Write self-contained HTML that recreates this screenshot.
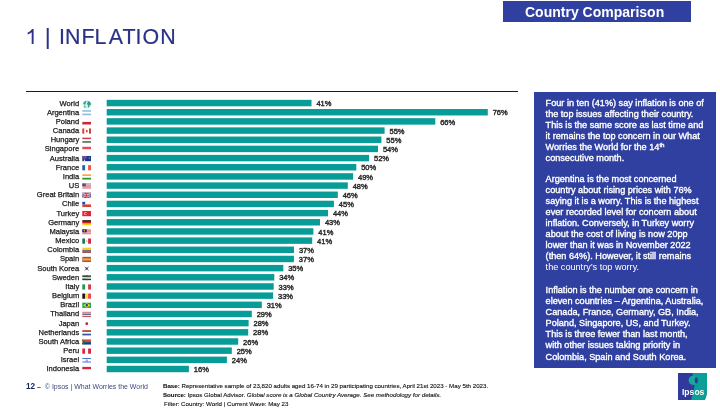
<!DOCTYPE html>
<html><head><meta charset="utf-8">
<style>
html,body{margin:0;padding:0;background:#fff;}
body{width:720px;height:412px;position:relative;overflow:hidden;font-family:"Liberation Sans",sans-serif;}
.abs{position:absolute;}
*{-webkit-font-smoothing:antialiased;}
svg,#cc,#panel,#fl,#fn{will-change:transform;}
#title{left:24.6px;top:24px;font-size:21px;color:#27307f;letter-spacing:0.9px;white-space:nowrap;line-height:24px;}
#cc{left:503px;top:1px;width:188px;height:20.6px;background:#3040a0;}
#cc span{position:absolute;left:22px;top:3px;font-size:14px;font-weight:bold;color:#fff;white-space:nowrap;line-height:16px;}
#hline{left:25.8px;top:90.5px;width:492px;height:1.2px;background:#1a1a1a;}
#panel{left:534.4px;top:91.5px;width:182px;height:275.7px;background:#3040a0;}
.pt{position:absolute;left:11.6px;font-size:9.15px;line-height:11.04px;color:#fff;white-space:nowrap;-webkit-text-stroke:0.35px #fff;}
#p1{top:6.1px;}
#p2{top:82.0px;}
#p3{top:192.7px;line-height:11.16px;}
.pt .thin{-webkit-text-stroke:0;}
.pt sup{font-size:6.2px;vertical-align:0;position:relative;top:-3.4px;line-height:0;}
svg text.v{font-size:7.5px;fill:#2a2a2a;stroke:#2a2a2a;stroke-width:0.42px;font-family:"Liberation Sans",sans-serif;}
svg text.c{font-size:7.55px;fill:#1a1a1a;stroke:#1a1a1a;stroke-width:0.25px;font-family:"Liberation Sans",sans-serif;}
#fl{left:26px;top:381.5px;font-size:6.98px;color:#3b4a80;white-space:nowrap;line-height:9px;}
#fl b{color:#1c2560;font-size:8.2px;}
#fn{left:162.7px;top:381px;font-size:6.17px;color:#111;-webkit-text-stroke:0.12px #111;line-height:9.2px;white-space:nowrap;}
#logo{left:677.5px;top:372.7px;width:29px;height:27.2px;}
</style></head><body>
<svg class="abs" style="left:0;top:0" width="200" height="60"><path d="M33.6,28.9 L33.6,44 L31.7,44 L31.7,32.2 Q30.2,33.6 27.6,34.5 L27.6,32.7 Q30.6,31.6 32.0,28.9 Z" fill="#2a3386"/><text x="45.02 58.98 64.92 81.61 94.43 108.76 122.42 135.48 142.58 160.37" y="43.9" font-size="21.4" fill="#2a3386" stroke="#2a3386" stroke-width="0.2" font-family="Liberation Sans">|INFLATION</text></svg>
<div id="cc" class="abs"><span>Country Comparison</span></div>
<div id="hline" class="abs"></div>
<svg class="abs" style="left:0;top:0" width="720" height="412" viewBox="0 0 720 412">
<rect x="106.7" y="99.85" width="204.80" height="6.45" fill="#079c98"/>
<text x="316.40" y="106.20" class="v">41%</text>
<text x="79.2" y="105.55" class="c" text-anchor="end">World</text>
<g opacity="0.9"><ellipse cx="86.9" cy="104.6" rx="4.4" ry="4.1" fill="#c4f0e8"/><path d="M83.0,103.6 Q83.7,101.19999999999999 85.9,100.69999999999999 L86.5,101.8 Q85.10000000000001,102.8 85.7,104.0 L84.7,104.8 Q83.9,104.39999999999999 83.0,103.6z" fill="#2a9a86"/><path d="M84.30000000000001,105.39999999999999 Q85.7,105.5 85.60000000000001,106.8 Q85.10000000000001,108.0 84.5,108.19999999999999 Q84.10000000000001,106.6 84.30000000000001,105.39999999999999z" fill="#2a9a86"/><path d="M87.5,100.8 Q90.30000000000001,101.39999999999999 91.2,104.0 Q90.7,105.19999999999999 89.7,104.8 Q89.5,106.8 88.5,108.0 Q87.80000000000001,106.19999999999999 87.9,104.8 Q86.7,104.3 87.10000000000001,103.19999999999999 Q88.30000000000001,103.0 87.5,100.8z" fill="#1f9079"/></g>
<rect x="106.7" y="109.02" width="381.10" height="6.45" fill="#079c98"/>
<text x="492.70" y="115.37" class="v">76%</text>
<text x="79.2" y="114.72" class="c" text-anchor="end">Argentina</text>
<g opacity="0.9"><rect x="82.30" y="110.12" width="8.70" height="1.73" fill="#8db4dc"/><rect x="82.30" y="111.85" width="8.70" height="1.73" fill="#ffffff"/><rect x="82.30" y="113.59" width="8.70" height="1.73" fill="#8db4dc"/></g>
<rect x="106.7" y="118.19" width="328.60" height="6.45" fill="#079c98"/>
<text x="440.20" y="124.54" class="v">66%</text>
<text x="79.2" y="123.89" class="c" text-anchor="end">Poland</text>
<g opacity="0.9"><rect x="82.30" y="119.29" width="8.70" height="2.60" fill="#ffffff"/><rect x="82.30" y="121.89" width="8.70" height="2.60" fill="#c8102e"/></g>
<rect x="106.7" y="127.36" width="277.90" height="6.45" fill="#079c98"/>
<text x="389.50" y="133.71" class="v">55%</text>
<text x="79.2" y="133.06" class="c" text-anchor="end">Canada</text>
<g opacity="0.9"><rect x="82.30" y="128.46" width="2.17" height="5.20" fill="#d52b1e"/><rect x="88.83" y="128.46" width="2.17" height="5.20" fill="#d52b1e"/><rect x="84.47" y="128.46" width="4.35" height="5.20" fill="#ffffff"/><rect x="86.0" y="129.95999999999998" width="1.6" height="2.4" fill="#d52b1e"/></g>
<rect x="106.7" y="136.53" width="274.70" height="6.45" fill="#079c98"/>
<text x="386.30" y="142.88" class="v">55%</text>
<text x="79.2" y="142.23" class="c" text-anchor="end">Hungary</text>
<g opacity="0.9"><rect x="82.30" y="137.63" width="8.70" height="1.73" fill="#ce2939"/><rect x="82.30" y="139.36" width="8.70" height="1.73" fill="#ffffff"/><rect x="82.30" y="141.10" width="8.70" height="1.73" fill="#477050"/></g>
<rect x="106.7" y="145.70" width="271.30" height="6.45" fill="#079c98"/>
<text x="382.90" y="152.05" class="v">54%</text>
<text x="79.2" y="151.40" class="c" text-anchor="end">Singapore</text>
<g opacity="0.9"><rect x="82.30" y="146.80" width="8.70" height="2.60" fill="#ef3340"/><rect x="82.30" y="149.40" width="8.70" height="2.60" fill="#ffffff"/></g>
<rect x="106.7" y="154.87" width="262.40" height="6.45" fill="#079c98"/>
<text x="374.00" y="161.22" class="v">52%</text>
<text x="79.2" y="160.57" class="c" text-anchor="end">Australia</text>
<g opacity="0.9"><rect x="82.30" y="155.97" width="8.70" height="5.20" fill="#00247d"/><rect x="82.3" y="155.97" width="4.35" height="2.6" fill="#6a3a8a"/><circle cx="84.5" cy="160.17" r="0.7" fill="#ffffff"/><circle cx="89.3" cy="157.97" r="0.5" fill="#ffffff"/></g>
<rect x="106.7" y="164.04" width="249.60" height="6.45" fill="#079c98"/>
<text x="361.20" y="170.39" class="v">50%</text>
<text x="79.2" y="169.74" class="c" text-anchor="end">France</text>
<g opacity="0.9"><rect x="82.30" y="165.14" width="2.90" height="5.20" fill="#0055a4"/><rect x="85.20" y="165.14" width="2.90" height="5.20" fill="#ffffff"/><rect x="88.10" y="165.14" width="2.90" height="5.20" fill="#ef4135"/></g>
<rect x="106.7" y="173.21" width="246.40" height="6.45" fill="#079c98"/>
<text x="358.00" y="179.56" class="v">49%</text>
<text x="79.2" y="178.91" class="c" text-anchor="end">India</text>
<g opacity="0.9"><rect x="82.30" y="174.31" width="8.70" height="1.73" fill="#ff9933"/><rect x="82.30" y="176.04" width="8.70" height="1.73" fill="#ffffff"/><rect x="82.30" y="177.78" width="8.70" height="1.73" fill="#138808"/></g>
<rect x="106.7" y="182.38" width="241.10" height="6.45" fill="#079c98"/>
<text x="352.70" y="188.73" class="v">48%</text>
<text x="79.2" y="188.08" class="c" text-anchor="end">US</text>
<g opacity="0.9"><rect x="82.30" y="183.48" width="8.70" height="0.40" fill="#b22234"/><rect x="82.30" y="184.28" width="8.70" height="0.40" fill="#b22234"/><rect x="82.30" y="185.08" width="8.70" height="0.40" fill="#b22234"/><rect x="82.30" y="185.88" width="8.70" height="0.40" fill="#b22234"/><rect x="82.30" y="186.68" width="8.70" height="0.40" fill="#b22234"/><rect x="82.30" y="187.48" width="8.70" height="0.40" fill="#b22234"/><rect x="82.30" y="188.28" width="8.70" height="0.40" fill="#b22234"/><rect x="82.30" y="183.48" width="3.48" height="2.80" fill="#3c3b6e"/></g>
<rect x="106.7" y="191.55" width="231.10" height="6.45" fill="#079c98"/>
<text x="342.70" y="197.90" class="v">46%</text>
<text x="79.2" y="197.25" class="c" text-anchor="end">Great Britain</text>
<g opacity="0.9"><rect x="82.30" y="192.65" width="8.70" height="5.20" fill="#012169"/><path d="M82.3,192.65 L91.0,197.85 M91.0,192.65 L82.3,197.85" stroke="#ffffff" stroke-width="1.2"/><path d="M82.3,192.65 L91.0,197.85 M91.0,192.65 L82.3,197.85" stroke="#c8102e" stroke-width="0.5"/><rect x="85.95" y="192.65" width="1.39" height="5.20" fill="#ffffff"/><rect x="82.30" y="194.63" width="8.70" height="1.25" fill="#ffffff"/><rect x="86.22" y="192.65" width="0.87" height="5.20" fill="#c8102e"/><rect x="82.30" y="194.83" width="8.70" height="0.83" fill="#c8102e"/></g>
<rect x="106.7" y="200.72" width="227.20" height="6.45" fill="#079c98"/>
<text x="338.80" y="207.07" class="v">45%</text>
<text x="79.2" y="206.42" class="c" text-anchor="end">Chile</text>
<g opacity="0.9"><rect x="82.30" y="201.82" width="8.70" height="2.60" fill="#ffffff"/><rect x="82.30" y="204.42" width="8.70" height="2.60" fill="#d52b1e"/><rect x="82.30" y="201.82" width="2.87" height="2.60" fill="#0039a6"/></g>
<rect x="106.7" y="209.89" width="221.30" height="6.45" fill="#079c98"/>
<text x="332.90" y="216.24" class="v">44%</text>
<text x="79.2" y="215.59" class="c" text-anchor="end">Turkey</text>
<g opacity="0.9"><rect x="82.30" y="210.99" width="8.70" height="5.20" fill="#e30a17"/><circle cx="85.7" cy="213.58999999999997" r="1.5" fill="#ffffff"/><circle cx="86.1" cy="213.58999999999997" r="1.2" fill="#e30a17"/></g>
<rect x="106.7" y="219.06" width="213.30" height="6.45" fill="#079c98"/>
<text x="324.90" y="225.41" class="v">43%</text>
<text x="79.2" y="224.76" class="c" text-anchor="end">Germany</text>
<g opacity="0.9"><rect x="82.30" y="220.16" width="8.70" height="1.73" fill="#000000"/><rect x="82.30" y="221.89" width="8.70" height="1.73" fill="#dd0000"/><rect x="82.30" y="223.63" width="8.70" height="1.73" fill="#ffce00"/></g>
<rect x="106.7" y="228.23" width="206.70" height="6.45" fill="#079c98"/>
<text x="318.30" y="234.58" class="v">41%</text>
<text x="79.2" y="233.93" class="c" text-anchor="end">Malaysia</text>
<g opacity="0.9"><rect x="82.30" y="229.33" width="8.70" height="0.37" fill="#cc0001"/><rect x="82.30" y="230.07" width="8.70" height="0.37" fill="#cc0001"/><rect x="82.30" y="230.82" width="8.70" height="0.37" fill="#cc0001"/><rect x="82.30" y="231.56" width="8.70" height="0.37" fill="#cc0001"/><rect x="82.30" y="232.30" width="8.70" height="0.37" fill="#cc0001"/><rect x="82.30" y="233.04" width="8.70" height="0.37" fill="#cc0001"/><rect x="82.30" y="233.79" width="8.70" height="0.37" fill="#cc0001"/><rect x="82.30" y="229.33" width="4.35" height="2.96" fill="#010066"/><circle cx="84.3" cy="230.82999999999998" r="0.8" fill="#ffcc00"/></g>
<rect x="106.7" y="237.40" width="205.50" height="6.45" fill="#079c98"/>
<text x="317.10" y="243.75" class="v">41%</text>
<text x="79.2" y="243.10" class="c" text-anchor="end">Mexico</text>
<g opacity="0.9"><rect x="82.30" y="238.50" width="2.90" height="5.20" fill="#006847"/><rect x="85.20" y="238.50" width="2.90" height="5.20" fill="#ffffff"/><rect x="88.10" y="238.50" width="2.90" height="5.20" fill="#ce1126"/><circle cx="86.8" cy="241.1" r="0.7" fill="#8c6a3a"/></g>
<rect x="106.7" y="246.57" width="187.30" height="6.45" fill="#079c98"/>
<text x="298.90" y="252.92" class="v">37%</text>
<text x="79.2" y="252.27" class="c" text-anchor="end">Colombia</text>
<g opacity="0.9"><rect x="82.30" y="247.67" width="8.70" height="2.60" fill="#f0c820"/><rect x="82.30" y="250.27" width="8.70" height="1.30" fill="#3a2a50"/><rect x="82.30" y="251.57" width="8.70" height="1.30" fill="#8a2030"/></g>
<rect x="106.7" y="255.74" width="187.20" height="6.45" fill="#079c98"/>
<text x="298.80" y="262.09" class="v">37%</text>
<text x="79.2" y="261.44" class="c" text-anchor="end">Spain</text>
<g opacity="0.9"><rect x="82.30" y="256.84" width="8.70" height="5.20" fill="#a8401c"/><rect x="82.30" y="258.40" width="8.70" height="2.08" fill="#f2a040"/></g>
<rect x="106.7" y="264.91" width="176.60" height="6.45" fill="#079c98"/>
<text x="288.20" y="271.26" class="v">35%</text>
<text x="79.2" y="270.61" class="c" text-anchor="end">South Korea</text>
<g opacity="0.9"><path d="M84.7,266.81 L88.7,270.40999999999997 M88.7,266.81 L84.7,270.40999999999997" stroke="#303040" stroke-width="0.75"/><circle cx="86.7" cy="268.61" r="1.1" fill="#3a2050"/></g>
<rect x="106.7" y="274.08" width="167.60" height="6.45" fill="#079c98"/>
<text x="279.20" y="280.43" class="v">34%</text>
<text x="79.2" y="279.78" class="c" text-anchor="end">Sweden</text>
<g opacity="0.9"><rect x="82.30" y="275.44" width="8.70" height="4.68" fill="#c8dccc"/><rect x="82.30" y="275.44" width="8.70" height="1.46" fill="#10241a"/><rect x="82.30" y="278.66" width="8.70" height="1.46" fill="#10241a"/><rect x="85.61" y="275.44" width="2.26" height="1.46" fill="#3a2418"/><rect x="85.61" y="278.66" width="2.26" height="1.46" fill="#3a2418"/><rect x="85.61" y="276.90" width="2.26" height="1.77" fill="#d8c0b0"/><rect x="87.87" y="276.90" width="3.13" height="1.77" fill="#a8d8c0"/></g>
<rect x="106.7" y="283.25" width="167.00" height="6.45" fill="#079c98"/>
<text x="278.60" y="289.60" class="v">33%</text>
<text x="79.2" y="288.95" class="c" text-anchor="end">Italy</text>
<g opacity="0.9"><rect x="82.30" y="284.35" width="2.90" height="5.20" fill="#009246"/><rect x="85.20" y="284.35" width="2.90" height="5.20" fill="#ffffff"/><rect x="88.10" y="284.35" width="2.90" height="5.20" fill="#ce2b37"/></g>
<rect x="106.7" y="292.42" width="166.40" height="6.45" fill="#079c98"/>
<text x="278.00" y="298.77" class="v">33%</text>
<text x="79.2" y="298.12" class="c" text-anchor="end">Belgium</text>
<g opacity="0.9"><rect x="82.30" y="293.52" width="2.90" height="5.20" fill="#000000"/><rect x="85.20" y="293.52" width="2.90" height="5.20" fill="#fdda24"/><rect x="88.10" y="293.52" width="2.90" height="5.20" fill="#ef3340"/></g>
<rect x="106.7" y="301.59" width="155.10" height="6.45" fill="#079c98"/>
<text x="266.70" y="307.94" class="v">31%</text>
<text x="79.2" y="307.29" class="c" text-anchor="end">Brazil</text>
<g opacity="0.9"><rect x="82.30" y="302.69" width="8.70" height="5.20" fill="#009c3b"/><path d="M86.8,303.19000000000005 L90.6,305.2900000000001 L86.8,307.39000000000004 L83.0,305.2900000000001z" fill="#ffdf00"/><circle cx="86.8" cy="305.2900000000001" r="1.2" fill="#002776"/></g>
<rect x="106.7" y="310.76" width="145.10" height="6.45" fill="#079c98"/>
<text x="256.70" y="317.11" class="v">29%</text>
<text x="79.2" y="316.46" class="c" text-anchor="end">Thailand</text>
<g opacity="0.9"><rect x="82.30" y="311.86" width="8.70" height="0.87" fill="#a51931"/><rect x="82.30" y="312.73" width="8.70" height="0.87" fill="#f4f5f8"/><rect x="82.30" y="313.59" width="8.70" height="0.87" fill="#2d2a4a"/><rect x="82.30" y="314.46" width="8.70" height="0.87" fill="#2d2a4a"/><rect x="82.30" y="315.33" width="8.70" height="0.87" fill="#f4f5f8"/><rect x="82.30" y="316.19" width="8.70" height="0.87" fill="#a51931"/></g>
<rect x="106.7" y="319.93" width="141.90" height="6.45" fill="#079c98"/>
<text x="253.50" y="326.28" class="v">28%</text>
<text x="79.2" y="325.63" class="c" text-anchor="end">Japan</text>
<g opacity="0.9"><rect x="82.30" y="321.03" width="8.70" height="5.20" fill="#ffffff"/><circle cx="86.8" cy="323.63" r="1.4" fill="#bc002d"/></g>
<rect x="106.7" y="329.10" width="141.50" height="6.45" fill="#079c98"/>
<text x="253.10" y="335.45" class="v">28%</text>
<text x="79.2" y="334.80" class="c" text-anchor="end">Netherlands</text>
<g opacity="0.9"><rect x="82.30" y="330.20" width="8.70" height="1.73" fill="#ae1c28"/><rect x="82.30" y="331.93" width="8.70" height="1.73" fill="#ffffff"/><rect x="82.30" y="333.67" width="8.70" height="1.73" fill="#21468b"/></g>
<rect x="106.7" y="338.27" width="131.50" height="6.45" fill="#079c98"/>
<text x="243.10" y="344.62" class="v">26%</text>
<text x="79.2" y="343.97" class="c" text-anchor="end">South Africa</text>
<g opacity="0.9"><rect x="82.30" y="339.37" width="8.70" height="2.60" fill="#de3831"/><rect x="82.30" y="341.97" width="8.70" height="2.60" fill="#002395"/><rect x="82.30" y="341.45" width="8.70" height="1.04" fill="#007a4d"/><path d="M82.3,339.37 L85.89999999999999,341.97 L82.3,344.57z" fill="#007a4d"/><path d="M82.3,340.17 L84.7,341.97 L82.3,343.77z" fill="#000000"/><path d="M82.3,340.57 L83.89999999999999,341.97 L82.3,343.37z" fill="#ffb612"/></g>
<rect x="106.7" y="347.44" width="125.10" height="6.45" fill="#079c98"/>
<text x="236.70" y="353.79" class="v">25%</text>
<text x="79.2" y="353.14" class="c" text-anchor="end">Peru</text>
<g opacity="0.9"><rect x="82.30" y="348.54" width="2.90" height="5.20" fill="#d91023"/><rect x="85.20" y="348.54" width="2.90" height="5.20" fill="#ffffff"/><rect x="88.10" y="348.54" width="2.90" height="5.20" fill="#d91023"/></g>
<rect x="106.7" y="356.61" width="120.20" height="6.45" fill="#079c98"/>
<text x="231.80" y="362.96" class="v">24%</text>
<text x="79.2" y="362.31" class="c" text-anchor="end">Israel</text>
<g opacity="0.9"><rect x="82.30" y="357.71" width="8.70" height="5.20" fill="#ffffff"/><rect x="82.30" y="358.23" width="8.70" height="0.78" fill="#0038b8"/><rect x="82.30" y="361.61" width="8.70" height="0.78" fill="#0038b8"/><path d="M86.8,359.41 L87.8,361.21000000000004 L85.8,361.21000000000004z" fill="none" stroke="#0038b8" stroke-width="0.4"/></g>
<rect x="106.7" y="365.78" width="82.20" height="6.45" fill="#079c98"/>
<text x="193.80" y="372.13" class="v">16%</text>
<text x="79.2" y="371.48" class="c" text-anchor="end">Indonesia</text>
<g opacity="0.9"><rect x="82.30" y="366.88" width="8.70" height="2.60" fill="#ce1126"/><rect x="82.30" y="369.48" width="8.70" height="2.60" fill="#ffffff"/></g>
</svg>
<div id="panel" class="abs"><div class="pt" id="p1">Four in ten (41%) say inflation is one of<br>the top issues affecting their country.<br>This is the same score as last time and<br>it remains the top concern in our What<br>Worries the World for the 14<sup>th</sup><br>consecutive month.</div><div class="pt" id="p2">Argentina is the most concerned<br>country about rising prices with 76%<br>saying it is a worry. This is the highest<br>ever recorded level for concern about<br>inflation. Conversely, in Turkey worry<br>about the cost of living is now 20pp<br>lower than it was in November 2022<br>(then 64%). However, it still remains<br><span class="thin">the country’s top worry.</span></div><div class="pt" id="p3">Inflation is the number one concern in<br>eleven countries – Argentina, Australia,<br>Canada, France, Germany, GB, India,<br>Poland, Singapore, US, and Turkey.<br>This is three fewer than last month,<br>with other issues taking priority in<br>Colombia, Spain and South Korea.</div></div>
<div id="fl" class="abs"><b>12</b> <b style="font-size:7px">–</b>&nbsp; © Ipsos | What Worries the World</div>
<div id="fn" class="abs"><b>Base:</b> Representative sample of 23,820 adults aged 16-74 in 29 participating countries, April 21st 2023 - May 5th 2023.<br><b>Source:</b> Ipsos Global Advisor. <i>Global score is a Global Country Average. See methodology for details.</i><br><span style="margin-left:1px">Filter:</span> Country: World | Current Wave: May 23</div>
<svg id="logo" class="abs" viewBox="0 0 29 27.2" width="29" height="27.2">
<path d="M0,0 H29 V17 Q28.8,24 26.5,27.2 H0z" fill="#2f3a9c"/>
<path d="M14.5,0 H29 V17 Q28.8,24 26.5,27.2 H13 Q15.5,21 16.5,13 Z" fill="#0c9f98"/>
<ellipse cx="15" cy="7.3" rx="4.4" ry="4.6" fill="#18a99e"/>
<ellipse cx="18.3" cy="7.3" rx="1.6" ry="3.1" fill="#2f3a9c"/>
<text x="4" y="21.8" font-size="8.6" font-weight="bold" fill="#fff" font-family="Liberation Sans">Ipsos</text>
</svg>
</body></html>
